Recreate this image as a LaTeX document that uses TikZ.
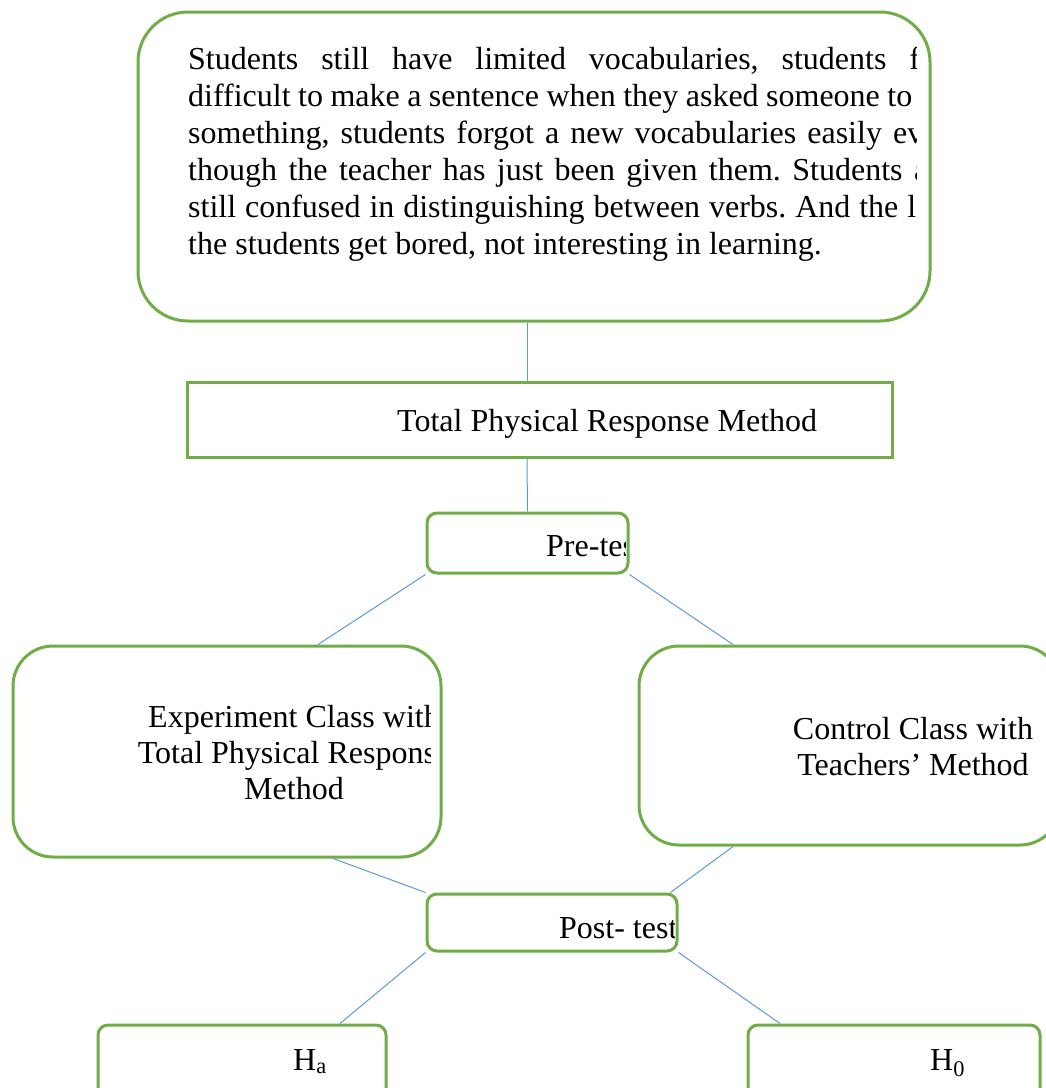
\documentclass[tikz,border=0pt]{standalone}
\usepackage{fontspec}
\setmainfont{Liberation Serif}
\usepackage{tikz}
\usetikzlibrary{positioning}
\definecolor{boxgreen}{HTML}{70AD47}
\definecolor{linkblue}{HTML}{5B9BD5}
\hbadness=10000
\hfuzz=20pt
\frenchspacing

\begin{document}
\begin{tikzpicture}[
		x=1pt, y=-1pt,
		font=\fontsize{32}{37}\selectfont,
		block/.style={
			rectangle,
			rounded corners=10pt,
			draw=boxgreen,
			line width=3pt,
			fill=white,
			inner sep=0pt
		},
		link/.style={
			draw=linkblue,
			line width=1pt
		},
		txt/.style={
			inner sep=0pt,
			anchor=base west
		}
		]
		\useasboundingbox (0,0) rectangle (1046,1088);
		\clip (0,0) rectangle (1046,1088);
		
		% We start by placing the blocks
		\node [block, rounded corners=50pt, minimum width=792pt, minimum height=309pt] (problem) at (534,166.5) {};
		\node [block, sharp corners, minimum width=705pt, minimum height=75pt] (tpr) at (539.5,419.5) {};
		\node [block, minimum width=201pt, minimum height=60pt] (pretest) at (527.5,543) {};
		\node [block, rounded corners=40pt, minimum width=428pt, minimum height=211pt] (expclass) at (227,751.5) {};
		\node [block, rounded corners=40pt, minimum width=421pt, minimum height=199pt] (ctrlclass) at (849.5,745.5) {};
		\node [block, minimum width=250pt, minimum height=57pt] (posttest) at (552,922.5) {};
		\node [block, minimum width=288pt, minimum height=85pt] (ha) at (242,1067.5) {};
		\node [block, minimum width=292pt, minimum height=85pt] (hnull) at (894,1067.5) {};
		
		% the texts, cut off at the box edges
		\begin{scope}
			\clip (150,11) rectangle (916,322);
			\node [txt] (line1) at (188,69) {\hbox to 731.7pt{Students still have limited vocabularies, students f}};
			\node [txt] (line2) at (188,106) {\hbox to 724pt{difficult to make a sentence when they asked someone to}};
			\node [txt] (line3) at (188,143) {\hbox to 735pt{something, students forgot a new vocabularies easily ev}};
			\node [txt] (line4) at (188,180) {\hbox to 740pt{though the teacher has just been given them. Students a}};
			\node [txt] (line5) at (188,217) {\hbox to 728pt{still confused in distinguishing between verbs. And the l}};
			\node [txt] (line6) at (188,254) {the students get bored, not interesting in learning.};
		\end{scope}
		
		\node [txt] (tprtext) at (397,431) {Total Physical Response Method};
		
		\begin{scope}
			\clip (427,513) rectangle (625,573);
			\node [txt] (pretext) at (546,556) {Pre-tes};
		\end{scope}
		
		\begin{scope}
			\clip (13,646) rectangle (430,857);
			\node [txt, anchor=base] (exptext1) at (294,727) {Experiment Class with};
			\node [txt, anchor=base] (exptext2) at (294,763) {Total Physical Respons\phantom{e}};
			\node [txt, anchor=base] (exptext3) at (294,799) {Method};
		\end{scope}
		
		\node [txt, anchor=base] (ctrltext1) at (913,739) {Control Class with};
		\node [txt, anchor=base] (ctrltext2) at (913,775) {Teachers’ Method};
		
		\begin{scope}
			\clip (427,894) rectangle (674,951);
			\node [txt] (posttext) at (559,938) {Post- test};
		\end{scope}
		
		\node [txt] (hatext) at (293,1070) {H\textsubscript{a}};
		\node [txt] (hnulltext) at (930,1070) {H\textsubscript{0}};
		
		% connectors
		\draw [link] ([xshift=-7pt]problem.south) -- ([xshift=-12.5pt]tpr.north);
		\draw [link] ([xshift=-12.5pt]tpr.south) -- (pretest.north);
		\draw [link] (pretest.south west) -- ([xshift=91pt]expclass.north);
		\draw [link] (pretest.south east) -- ([xshift=-116.5pt]ctrlclass.north);
		\draw [link] ([xshift=106pt]expclass.south) -- (posttest.north west);
		\draw [link] ([xshift=-116.5pt]ctrlclass.south) -- ([xshift=-8pt]posttest.north east);
		\draw [link] (posttest.south west) -- ([xshift=98pt]ha.north);
		\draw [link] (posttest.south east) -- ([xshift=-114pt]hnull.north);
		
\end{tikzpicture}
\end{document}
